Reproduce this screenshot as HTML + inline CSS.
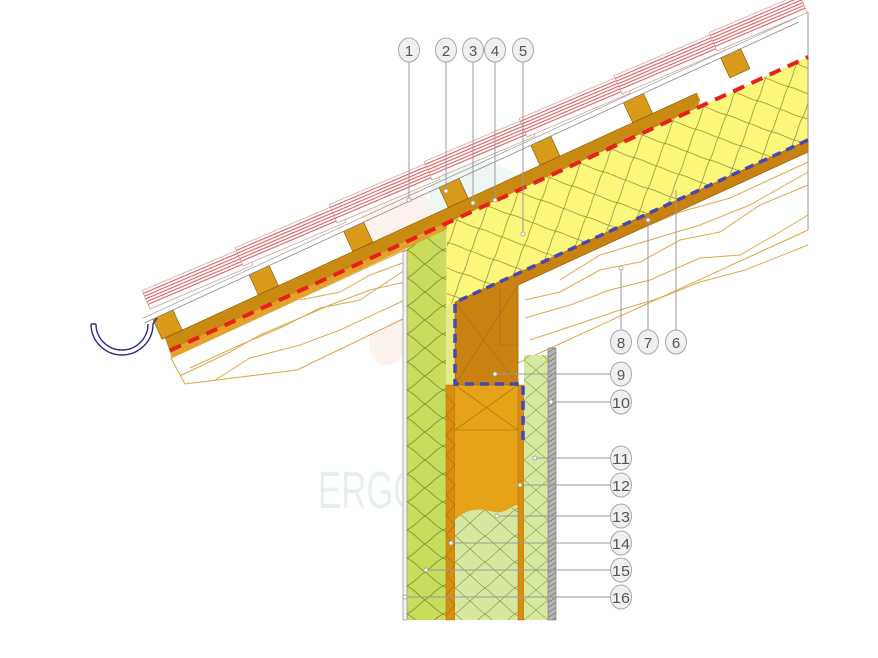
<!DOCTYPE html>
<html><head><meta charset="utf-8"><style>
html,body{margin:0;padding:0;background:#fff;}
svg{display:block;}
text{font-family:"Liberation Sans",sans-serif;}
</style></head><body>
<svg width="878" height="658" viewBox="0 0 878 658" xmlns="http://www.w3.org/2000/svg">
<defs>
<pattern id="gins" width="36" height="28" patternUnits="userSpaceOnUse" x="407" y="250">
<path d="M0,0 C8,4 12,10 18,14 C24,18 28,24 36,28 M36,0 C28,4 24,10 18,14 C12,18 8,24 0,28" stroke="#6f7f2a" stroke-width="0.7" fill="none"/>
</pattern>
<pattern id="lgins" width="30" height="26" patternUnits="userSpaceOnUse" x="455" y="510">
<path d="M0,0 C6,4 10,9 15,13 C20,17 24,22 30,26 M30,0 C24,4 20,9 15,13 C10,17 6,22 0,26" stroke="#7c8c3a" stroke-width="0.6" fill="none"/>
</pattern>
<pattern id="yins" width="34" height="34" patternUnits="userSpaceOnUse" patternTransform="rotate(-24.7)">
<path d="M0,0 C8,6 10,11 17,17 C24,23 26,28 34,34 M34,0 C26,6 24,11 17,17 C10,23 8,28 0,34" stroke="#8a8a3a" stroke-width="0.7" fill="none"/>
</pattern>
<pattern id="xh" width="24" height="40" patternUnits="userSpaceOnUse" x="524" y="360">
<path d="M0,0 L24,20 L0,40 M24,0 L0,20 M24,40 L0,20" stroke="#8a9a50" stroke-width="0.6" fill="none"/>
</pattern>
<pattern id="gh" width="8" height="5" patternUnits="userSpaceOnUse">
<rect width="8" height="5" fill="#b4b4b4"/><path d="M0,5 L8,0" stroke="#666" stroke-width="0.6"/>
</pattern>
</defs>

<g opacity="0.35">
<path d="M360,200 C380,175 430,185 440,215 L420,330 C410,360 380,380 370,350 Z" fill="#f6dccc"/>
<path d="M430,170 C470,140 560,180 560,230 C540,260 470,260 430,240 Z" fill="#cfe7e0"/>
</g>
<text x="318" y="508" font-size="52" fill="#e6f1ec" textLength="232" lengthAdjust="spacingAndGlyphs">ERGODOMUS</text>

<polygon points="171,358 185,384 297,370 405,318 405,250" fill="#fff" stroke="#d9a640" stroke-width="1"/>
<g stroke="#dcaa50" stroke-width="1" fill="none">
<polyline points="180,376 230,352 260,335 300,318 330,305 370,290 405,282"/>
<polyline points="215,380 250,358 300,345 340,330 405,300"/>
<polyline points="190,368 240,345 280,328 320,308 360,300 405,270"/>
<polyline points="300,300 340,292 370,275 405,262"/>
</g>

<polygon points="518,285 808,152 808,230 518,363" fill="#fff" stroke="#d9a640" stroke-width="1"/>
<g stroke="#dcaa50" stroke-width="1" fill="none">
<polyline points="525,300 560,292 600,270 640,262 680,240 720,232 760,205 808,185"/>
<polyline points="525,318 570,305 610,290 650,280 700,258 740,255 780,232 808,215"/>
<polyline points="530,340 575,325 620,310 660,298 700,282 745,270 808,245"/>
<polyline points="560,280 600,255 650,240 700,225 750,205 808,172"/>
<polyline points="540,262 580,248 620,238 680,212 730,198 808,162"/>
</g>

<polygon points="407,245 446,228 446,620 407,620" fill="#c9dc5c"/>
<polygon points="407,245 446,228 446,620 407,620" fill="url(#gins)"/>
<polygon points="403,252 407,250 407,620 403,620" fill="#f4f4f4" stroke="#999" stroke-width="0.8"/>
<rect x="446" y="225" width="10" height="160" fill="#e4ec8a"/>
<rect x="446" y="385" width="9" height="235" fill="#d98e10" stroke="#a86a10" stroke-width="0.5"/>
<path d="M446,395 L455,405 L446,415 L455,425 L446,435 L455,445 L446,455 L455,465 L446,475 L455,485 L446,495 L455,505 L446,515 L455,525 L446,535 L455,545 L446,555 L455,565 L446,575 L455,585 L446,595 L455,605 L446,615" stroke="#8a5a10" stroke-width="0.5" fill="none"/>
<rect x="455" y="385" width="63" height="235" fill="#e6a218"/>
<path d="M455,520 C470,505 485,510 495,512 C505,514 512,505 518,505 L518,620 L455,620 Z" fill="#d6e8a0"/>
<path d="M455,520 C470,505 485,510 495,512 C505,514 512,505 518,505 L518,620 L455,620 Z" fill="url(#lgins)"/>
<path d="M455,430 L518,430 M455,385 L518,430 M518,385 L455,430" stroke="#a06a10" stroke-width="0.6" fill="none"/>
<rect x="518" y="385" width="6" height="235" fill="#d98e10" stroke="#a86a10" stroke-width="0.5"/>
<rect x="524" y="355" width="24" height="265" fill="#d6e9a0"/>
<rect x="524" y="355" width="24" height="265" fill="url(#xh)"/>
<rect x="548" y="348" width="8" height="272" fill="url(#gh)" stroke="#777" stroke-width="0.6"/>

<polygon points="447,223 808,57 808,140 447,306" fill="#fbf77a"/>
<polygon points="447,223 808,57 808,140 447,306" fill="url(#yins)"/>
<line x1="808" y1="12" x2="808" y2="230" stroke="#999" stroke-width="1"/>
<polygon points="455,302 808,140 808,152 518,285 518,385 455,385" fill="#c98210" stroke="#9a6210" stroke-width="0.6"/>
<path d="M455,302 L518,385 M518,285 L455,385 M500,290 L500,345 L518,345" stroke="#9a6a20" stroke-width="0.6" fill="none"/>

<polygon points="165,338 697,93 700,100 697,108 447,223 407,241 172,358" fill="#c98a12"/>
<polygon points="170,350 447,223 447,229 407,248 172,358" fill="#e3a22a"/>
<line x1="165" y1="338" x2="697" y2="93" stroke="#9a6a10" stroke-width="0.7"/>

<line x1="170" y1="350.5" x2="808" y2="57" stroke="#e8201a" stroke-width="4" stroke-dasharray="12 8"/>
<polyline points="808,140 455,302.4 455,384 523,384 523,442" fill="none" stroke="#4646b4" stroke-width="3.5" stroke-dasharray="9 6"/>

<g transform="translate(808,42) rotate(-24.7)">
<g fill="#d99a1a" stroke="#8a6010" stroke-width="0.7">
<rect x="-711" y="-22" width="22" height="22"/><rect x="-605" y="-22" width="22" height="22"/>
<rect x="-501" y="-22" width="22" height="22"/><rect x="-396" y="-22" width="22" height="22"/>
<rect x="-295" y="-22" width="22" height="22"/><rect x="-193" y="-22" width="22" height="22"/>
<rect x="-86" y="-22" width="22" height="22"/>
</g>
<line x1="-720" y1="-22" x2="0" y2="-22" stroke="#888" stroke-width="0.8"/>
<line x1="-720" y1="-27" x2="0" y2="-27" stroke="#999" stroke-width="0.7"/>
</g>
<g stroke="#e06060" stroke-width="1.1" fill="#fff">
<g transform="translate(150,309) rotate(-23)">
<rect x="0" y="-20" width="112" height="20" stroke="#c99" stroke-width="0.7"/><path d="M0,-17H112M0,-14H112M0,-11H112M0,-8H112M0,-5H112"/></g>
<g transform="translate(243,266) rotate(-23)">
<rect x="0" y="-20" width="112" height="20" stroke="#c99" stroke-width="0.7"/><path d="M0,-17H112M0,-14H112M0,-11H112M0,-8H112M0,-5H112"/></g>
<g transform="translate(337,223) rotate(-23)">
<rect x="0" y="-20" width="112" height="20" stroke="#c99" stroke-width="0.7"/><path d="M0,-17H112M0,-14H112M0,-11H112M0,-8H112M0,-5H112"/></g>
<g transform="translate(432,180) rotate(-23)">
<rect x="0" y="-20" width="112" height="20" stroke="#c99" stroke-width="0.7"/><path d="M0,-17H112M0,-14H112M0,-11H112M0,-8H112M0,-5H112"/></g>
<g transform="translate(527,137) rotate(-23)">
<rect x="0" y="-20" width="112" height="20" stroke="#c99" stroke-width="0.7"/><path d="M0,-17H112M0,-14H112M0,-11H112M0,-8H112M0,-5H112"/></g>
<g transform="translate(622,94) rotate(-23)">
<rect x="0" y="-20" width="112" height="20" stroke="#c99" stroke-width="0.7"/><path d="M0,-17H112M0,-14H112M0,-11H112M0,-8H112M0,-5H112"/></g>
<g transform="translate(717,51) rotate(-23)">
<rect x="0" y="-20" width="98" height="20" stroke="#c99" stroke-width="0.7"/><path d="M0,-17H98M0,-14H98M0,-11H98M0,-8H98M0,-5H98"/></g>
</g>

<g fill="none" stroke="#2a2a8a" stroke-width="1.4">
<path d="M91,324 A31,31 0 0 0 153,324 L157,318"/>
<path d="M96,324 A26,26 0 0 0 148,324"/>
<line x1="91" y1="324" x2="96" y2="324"/>
</g>

<g stroke="#999" stroke-width="1" fill="none">
<line x1="409" y1="61" x2="409" y2="200"/>
<line x1="446" y1="61" x2="446" y2="191"/>
<line x1="473" y1="61" x2="473" y2="203"/>
<line x1="495" y1="61" x2="495" y2="200"/>
<line x1="523" y1="61" x2="523" y2="234"/>
<line x1="621" y1="330" x2="621" y2="268"/>
<line x1="648" y1="330" x2="648" y2="220"/>
<line x1="676" y1="330" x2="676" y2="190"/>
<line x1="495" y1="374" x2="610" y2="374"/>
<line x1="551" y1="402" x2="610" y2="402"/>
<line x1="535" y1="458" x2="610" y2="458"/>
<line x1="520" y1="485" x2="610" y2="485"/>
<line x1="497" y1="516" x2="610" y2="516"/>
<line x1="451" y1="543" x2="610" y2="543"/>
<line x1="426" y1="570" x2="610" y2="570"/>
<line x1="405" y1="597" x2="610" y2="597"/>
</g>
<g fill="#fff" stroke="#999" stroke-width="0.8">
<circle cx="409" cy="200" r="2"/><circle cx="446" cy="191" r="2"/><circle cx="473" cy="203" r="2"/><circle cx="495" cy="200" r="2"/><circle cx="523" cy="234" r="2"/>
<circle cx="621" cy="268" r="2"/><circle cx="648" cy="220" r="2"/>
<circle cx="495" cy="374" r="2"/><circle cx="551" cy="402" r="2"/><circle cx="535" cy="458" r="2"/><circle cx="520" cy="485" r="2"/><circle cx="497" cy="516" r="2"/><circle cx="451" cy="543" r="2"/><circle cx="426" cy="570" r="2"/><circle cx="405" cy="597" r="2"/>
</g>

<g fill="#f0f0f0" stroke="#a8a8a8" stroke-width="1">
<ellipse cx="409" cy="50" rx="10.5" ry="12"/><ellipse cx="446" cy="50" rx="10.5" ry="12"/><ellipse cx="473" cy="50" rx="10.5" ry="12"/><ellipse cx="495" cy="50" rx="10.5" ry="12"/><ellipse cx="523" cy="50" rx="10.5" ry="12"/>
<ellipse cx="621" cy="342" rx="10.5" ry="12"/><ellipse cx="648" cy="342" rx="10.5" ry="12"/><ellipse cx="676" cy="342" rx="10.5" ry="12"/>
<ellipse cx="621" cy="374" rx="10.5" ry="12"/><ellipse cx="621" cy="402" rx="10.5" ry="12"/><ellipse cx="621" cy="458" rx="10.5" ry="12"/><ellipse cx="621" cy="485" rx="10.5" ry="12"/><ellipse cx="621" cy="516" rx="10.5" ry="12"/><ellipse cx="621" cy="543" rx="10.5" ry="12"/><ellipse cx="621" cy="570" rx="10.5" ry="12"/><ellipse cx="621" cy="597" rx="10.5" ry="12"/>
</g>
<g font-size="15" fill="#555" text-anchor="middle">
<text x="409" y="56">1</text><text x="446" y="56">2</text><text x="473" y="56">3</text><text x="495" y="56">4</text><text x="523" y="56">5</text>
<text x="621" y="348">8</text><text x="648" y="348">7</text><text x="676" y="348">6</text>
<text x="621" y="380">9</text>
<text x="621" y="408" textLength="18" lengthAdjust="spacingAndGlyphs">10</text>
<text x="621" y="464" textLength="18" lengthAdjust="spacingAndGlyphs">11</text>
<text x="621" y="491" textLength="18" lengthAdjust="spacingAndGlyphs">12</text>
<text x="621" y="522" textLength="18" lengthAdjust="spacingAndGlyphs">13</text>
<text x="621" y="549" textLength="18" lengthAdjust="spacingAndGlyphs">14</text>
<text x="621" y="576" textLength="18" lengthAdjust="spacingAndGlyphs">15</text>
<text x="621" y="603" textLength="18" lengthAdjust="spacingAndGlyphs">16</text>
</g>
</svg>
</body></html>
